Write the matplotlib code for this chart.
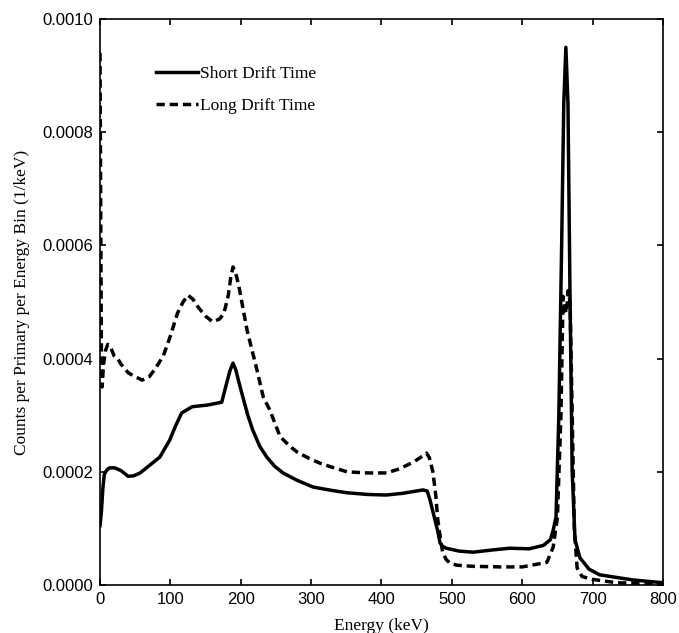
import numpy as np
import matplotlib
matplotlib.use("Agg")
import matplotlib.pyplot as plt

# spectrum, values in units of 1e-4 counts / keV
energy_long = [0, 1, 2, 3, 5, 8, 11, 15, 20, 25,
               30, 40, 50, 60, 70, 80, 90, 100, 110, 118,
               125, 132, 140, 150, 160, 170, 176, 182, 186, 189,
               193, 197, 203, 209, 216, 223, 232, 241, 256, 270,
               280, 295, 313, 330, 351, 380, 407, 425, 445, 455,
               464, 468, 473, 477, 480, 484, 487, 492, 497, 507,
               530, 568, 600, 635, 644, 650, 655, 658, 660, 663,
               665, 668, 671, 674, 678, 685, 700, 734, 770, 800]
counts_long = [9.4, 6.5, 4.0, 3.5, 3.9, 4.15, 4.25, 4.2, 4.05, 4.0,
               3.9, 3.75, 3.68, 3.62, 3.68, 3.85, 4.05, 4.4, 4.8, 5.0,
               5.12, 5.05, 4.9, 4.75, 4.65, 4.7, 4.8, 5.1, 5.45, 5.62,
               5.5, 5.3, 4.9, 4.5, 4.15, 3.8, 3.32, 3.1, 2.62, 2.45,
               2.35, 2.25, 2.15, 2.08, 2.0, 1.98, 1.98, 2.05, 2.17, 2.25,
               2.33, 2.25, 2.0, 1.6, 1.15, 0.8, 0.57, 0.45, 0.39, 0.35,
               0.33, 0.32, 0.32, 0.4, 0.67, 1.2, 3.0, 5.1, 4.9, 4.8,
               5.2, 5.0, 3.0, 1.0, 0.3, 0.15, 0.1, 0.04, 0.03, 0.02]

energy_short = [0, 2, 4, 6, 8, 11, 14, 21, 30, 40,
                48, 57, 71, 85, 99, 107, 116, 131, 153, 173,
                180, 185, 189, 193, 197, 203, 210, 217, 227, 237,
                248, 260, 280, 303, 330, 351, 380, 407, 430, 459,
                465, 469, 473, 476, 480, 483, 487, 492, 510, 530,
                558, 582, 610, 630, 640, 644, 648, 652, 656, 659,
                662, 665, 668, 671, 675, 682, 695, 710, 757, 800]
counts_short = [1.05, 1.3, 1.7, 1.95, 2.0, 2.05, 2.07, 2.07, 2.02, 1.92,
                1.93, 1.98, 2.12, 2.26, 2.56, 2.8, 3.04, 3.15, 3.18, 3.23,
                3.57, 3.8, 3.92, 3.8, 3.6, 3.32, 3.0, 2.74, 2.45, 2.26,
                2.1, 1.98, 1.85, 1.73, 1.67, 1.63, 1.6, 1.59, 1.62, 1.68,
                1.66, 1.5, 1.3, 1.15, 0.95, 0.75, 0.68, 0.65, 0.6, 0.58,
                0.62, 0.65, 0.64, 0.7, 0.8, 0.97, 1.2, 3.0, 6.0, 8.5,
                9.5, 8.5, 5.0, 2.0, 0.8, 0.48, 0.28, 0.18, 0.09, 0.04]

x_ticks = [0, 100, 200, 300, 400, 500, 600, 700, 800]
y_ticks = [0.0, 0.0002, 0.0004, 0.0006, 0.0008, 0.0010]

serif = ["Liberation Serif", "DejaVu Serif"]
sans = ["Liberation Sans", "DejaVu Sans"]

fig = plt.figure(figsize=(6.79, 6.33), dpi=100)
ax = fig.add_axes([0.1473, 0.0758, 0.8291, 0.8942])

ax.plot(energy_short, np.array(counts_short) * 1e-4, color="black", lw=2.5,
        label="Short Drift Time")
ax.plot(energy_long, np.array(counts_long) * 1e-4, color="black", lw=2.5,
        dashes=(2.4, 1.4), label="Long Drift Time")

ax.set_xlim(0, 800)
ax.set_ylim(0, 0.0010)
ax.set_xticks(x_ticks)
ax.set_yticks(y_ticks)
ax.set_xticklabels([str(t) for t in x_ticks], family=sans, fontsize=12)
ax.set_yticklabels(["%.4f" % t for t in y_ticks], family=sans, fontsize=12)
ax.tick_params(direction="in", length=4, width=1.2, top=True, right=True, pad=5)
for s in ax.spines.values():
    s.set_linewidth(1.2)

ax.set_xlabel("Energy (keV)", family=serif, fontsize=12.5, labelpad=8)
ax.set_ylabel("Counts per Primary per Energy Bin (1/keV)", family=serif, fontsize=12.5,
              labelpad=9)

leg = ax.legend(loc="upper left", bbox_to_anchor=(0.072, 0.945), frameon=False,
                prop={"family": serif, "size": 12.5}, handlelength=2.4,
                handletextpad=0.15, labelspacing=0.9)

fig.savefig("out.png", dpi=100)
